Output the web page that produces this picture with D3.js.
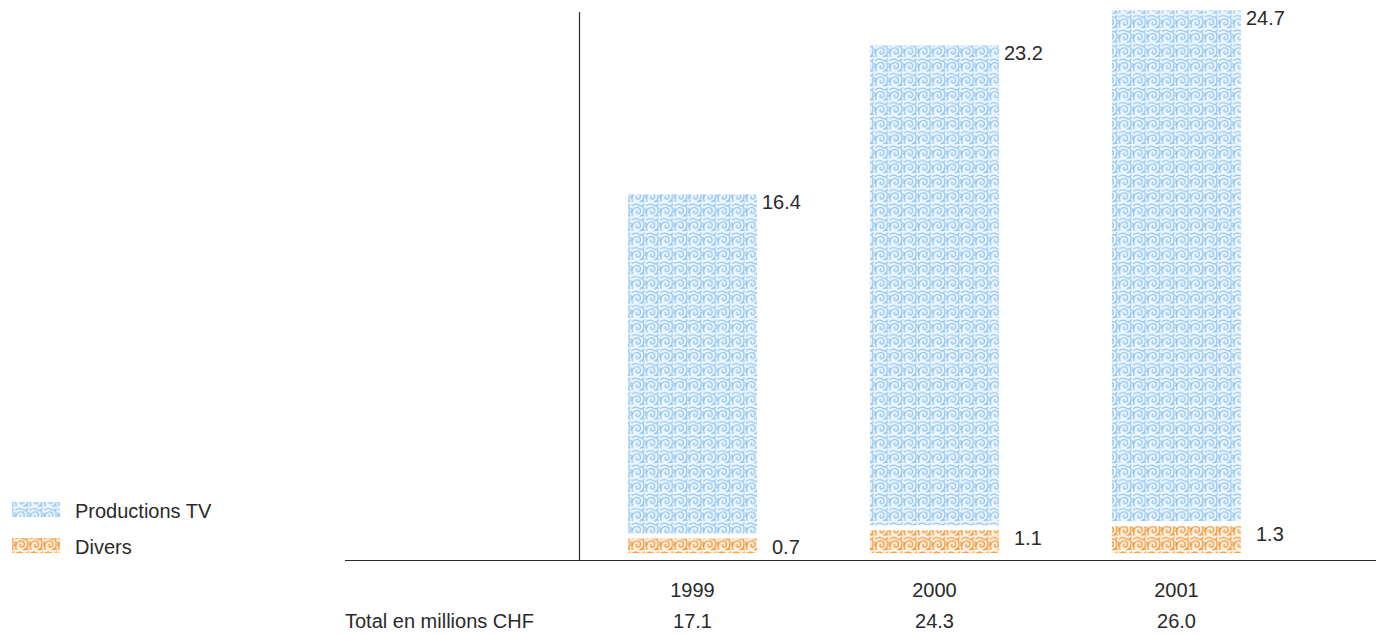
<!DOCTYPE html>
<html>
<head>
<meta charset="utf-8">
<script src="https://cdn.jsdelivr.net/npm/d3@7"></script>
<style>
  html, body { margin: 0; padding: 0; background: #fff; }
  svg { display: block; font-family: "Liberation Sans", Arial, Helvetica, sans-serif; }
</style>
</head>
<body>
<svg id="chart" width="1376" height="635"></svg>
<script>
// Revenue breakdown, millions CHF
const years = ["1999", "2000", "2001"];
const productionsTV = [16.4, 23.2, 24.7];
const divers = [0.7, 1.1, 1.3];
const totals = ["17.1", "24.3", "26.0"];
const seriesNames = ["Productions TV", "Divers"];
const totalLabel = "Total en millions CHF";

const svg = d3.select("#chart");
const textColor = "#2a2a2a";
const fontSize = 20;

// Ornamental swirl tile used as bar fill
const defs = svg.append("defs");
function swirlPattern(id, stroke, tint) {
  const p = defs.append("pattern")
    .attr("id", id)
    .attr("patternUnits", "userSpaceOnUse")
    .attr("width", 14.33)
    .attr("height", 14.5);
  p.append("rect").attr("width", 14.33).attr("height", 14.5).attr("fill", tint);
  const g = p.append("g")
    .attr("fill", "none")
    .attr("stroke", stroke)
    .attr("stroke-width", 1.25)
    .attr("stroke-linecap", "round");
  // main curl
  g.append("path").attr("d", "M2,13 C0.5,8 3,4 7,4.5 C10.5,5 11,9.5 8,10.5 C5.8,11.2 4.8,8.6 6.6,7.8");
  // upper hook
  g.append("path").attr("d", "M1.5,2.5 C3.5,0.8 6.5,1 8.5,2.2 C10.5,3.4 12.5,2.6 13.5,1");
  // right stem and leaf
  g.append("path").attr("d", "M12.5,3.5 C13.8,6.5 13.5,10 11.5,13.2");
  g.append("path").attr("d", "M9.5,13.4 C10.5,12 12.5,11.8 13.6,12.8");
  g.append("path").attr("d", "M0.6,5.5 C1.8,6.5 1.6,8.2 0.6,9");
  return `url(#${id})`;
}
const fillTV = swirlPattern("pat-tv", "#8fc4ef", "#eef6fd");
const fillDiv = swirlPattern("pat-div", "#f29531", "#fdf1e4");
const fills = [fillTV, fillDiv];

// Scales
const x = d3.scaleBand()
  .domain(years)
  .range([571.5, 1297.5])
  .paddingInner(0.467)
  .paddingOuter(0.2335);

const y = d3.scaleLinear()
  .domain([0, 26])
  .range([553, 15.3]);

const gap = 5;       // white space between stacked segments
const baselineY = 560;

const rows = years.map((yr, i) => ({
  year: yr,
  divers: divers[i],
  tv: productionsTV[i],
  total: totals[i]
}));

// Bars: Divers at the bottom, Productions TV above it
const bars = svg.append("g");
rows.forEach(d => {
  const x0 = x(d.year);
  const w = x.bandwidth();
  const divTop = y(d.divers);
  bars.append("rect")
    .attr("x", x0).attr("y", divTop)
    .attr("width", w).attr("height", y(0) - divTop)
    .attr("fill", fillDiv);
  const tvBottom = divTop - gap;
  const tvTop = tvBottom - (y(0) - y(d.tv));
  bars.append("rect")
    .attr("x", x0).attr("y", tvTop)
    .attr("width", w).attr("height", tvBottom - tvTop)
    .attr("fill", fillTV);

  // value labels
  bars.append("text")
    .attr("x", x0 + w + 5).attr("y", tvTop + 15)
    .attr("font-size", fontSize).attr("fill", textColor)
    .text(d.tv.toFixed(1));
  bars.append("text")
    .attr("x", x0 + w + 15).attr("y", divTop + 15)
    .attr("font-size", fontSize).attr("fill", textColor)
    .text(d.divers.toFixed(1));
});

// Axis lines
svg.append("line")
  .attr("x1", 345).attr("x2", 1376)
  .attr("y1", baselineY + 0.5).attr("y2", baselineY + 0.5)
  .attr("stroke", textColor).attr("stroke-width", 1.2);
svg.append("line")
  .attr("x1", 579.5).attr("x2", 579.5)
  .attr("y1", 12).attr("y2", baselineY)
  .attr("stroke", textColor).attr("stroke-width", 1.2);

// Category axis labels (years)
const xAxis = d3.axisBottom(x).tickSize(0).tickPadding(0);
const gx = svg.append("g")
  .attr("transform", `translate(0, ${baselineY})`)
  .call(xAxis);
gx.select(".domain").remove();
gx.selectAll("text")
  .attr("y", 37).attr("dy", null)
  .attr("font-size", fontSize)
  .attr("font-family", "Liberation Sans, Arial, sans-serif")
  .attr("fill", textColor);

// Totals row
svg.append("text")
  .attr("x", 345).attr("y", 628)
  .attr("font-size", fontSize).attr("fill", textColor)
  .text(totalLabel);
svg.append("g").selectAll("text")
  .data(rows)
  .join("text")
  .attr("x", d => x(d.year) + x.bandwidth() / 2)
  .attr("y", 628)
  .attr("text-anchor", "middle")
  .attr("font-size", fontSize).attr("fill", textColor)
  .text(d => d.total);

// Legend
const legend = svg.append("g");
seriesNames.forEach((name, i) => {
  const ly = 502 + i * 36;
  legend.append("rect")
    .attr("x", 12).attr("y", ly)
    .attr("width", 48).attr("height", 15)
    .attr("fill", fills[i]);
  legend.append("text")
    .attr("x", 75).attr("y", ly + 16)
    .attr("font-size", fontSize).attr("fill", textColor)
    .text(name);
});
</script>
</body>
</html>
